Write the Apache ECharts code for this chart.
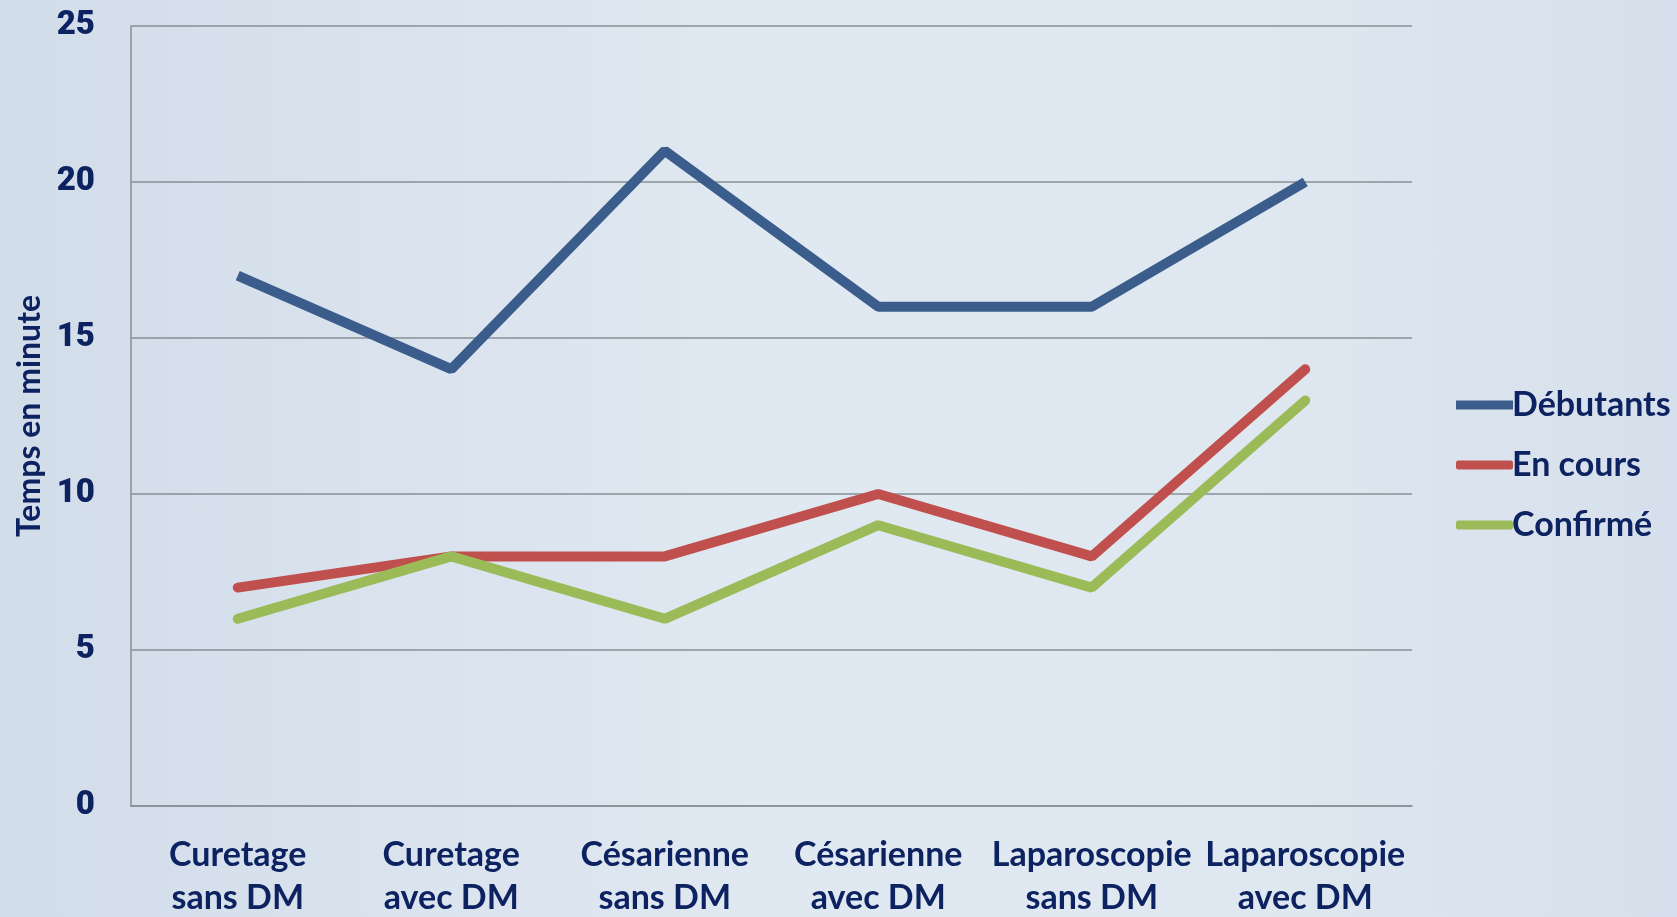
<!DOCTYPE html>
<html>
<head>
<meta charset="utf-8">
<script src="https://cdn.jsdelivr.net/npm/echarts@6/dist/echarts.min.js"></script>
<style>
html,body{margin:0;padding:0;}
#main{width:1677px;height:917px;background:linear-gradient(90deg,#d2ddea 0%,#e0e8f1 45%,#dfe7f0 75%,#d6e0ec 100%);}
</style>
</head>
<body>
<div id="main"></div>
<script>
var categories = ['Curetage\nsans DM','Curetage\navec DM','Césarienne\nsans DM','Césarienne\navec DM','Laparoscopie\nsans DM','Laparoscopie\navec DM'];
var debutants = [17, 14, 21, 16, 16, 20];
var enCours = [7, 8, 8, 10, 8, 14];
var confirme = [6, 8, 6, 9, 7, 13];

var textColor = '#0d2260';
var chart = echarts.init(document.getElementById('main'));
var option = {
	backgroundColor: 'transparent',
	grid: { left: 131, right: 265, top: 26, bottom: 111, containLabel: false, outerBoundsMode: 'none' },
	legend: {
		orient: 'vertical',
		left: 1451,
		top: 383,
		itemWidth: 57,
		itemHeight: 9,
		itemGap: 26,
		textStyle: { color: textColor, fontFamily: 'Lato', fontWeight: 'bold', fontSize: 34, padding: [0, 0, 0, -6] },
		data: [
			{ name: 'Débutants', icon: 'rect' },
			{ name: 'En cours', icon: 'roundRect' },
			{ name: 'Confirmé', icon: 'roundRect' }
		]
	},
	xAxis: {
		type: 'category',
		data: categories,
		boundaryGap: true,
		axisLine: { lineStyle: { color: '#8a8f96', width: 1.5 } },
		axisTick: { show: false },
		axisLabel: { color: textColor, fontFamily: 'Lato', fontWeight: 'bold', fontSize: 34, lineHeight: 43, margin: 28, interval: 0 }
	},
	yAxis: {
		type: 'value',
		min: 0, max: 25, interval: 5,
		name: 'Temps en minute',
		nameLocation: 'middle',
		nameGap: 83,
		nameTextStyle: { color: textColor, fontFamily: 'Lato', fontWeight: 'bold', fontSize: 32 },
		axisLine: { show: true, lineStyle: { color: '#8a8f96', width: 1.5 } },
		axisTick: { show: false },
		splitLine: { lineStyle: { color: '#8a8f96', width: 1.5 } },
		axisLabel: { color: textColor, fontFamily: 'Roboto', fontWeight: 900, fontSize: 33, margin: 36 }
	},
	series: [
		{ name: 'Débutants', type: 'line', data: debutants, symbol: 'none', lineStyle: { width: 10, color: '#3a5d8c' }, itemStyle: { color: '#3a5d8c' } },
		{ name: 'En cours', type: 'line', data: enCours, symbol: 'none', lineStyle: { width: 10, color: '#c0504d', cap: 'round' }, itemStyle: { color: '#c0504d' } },
		{ name: 'Confirmé', type: 'line', data: confirme, symbol: 'none', lineStyle: { width: 10, color: '#9bbb59', cap: 'round' }, itemStyle: { color: '#9bbb59' } }
	]
};
chart.setOption(option);
</script>
</body>
</html>
